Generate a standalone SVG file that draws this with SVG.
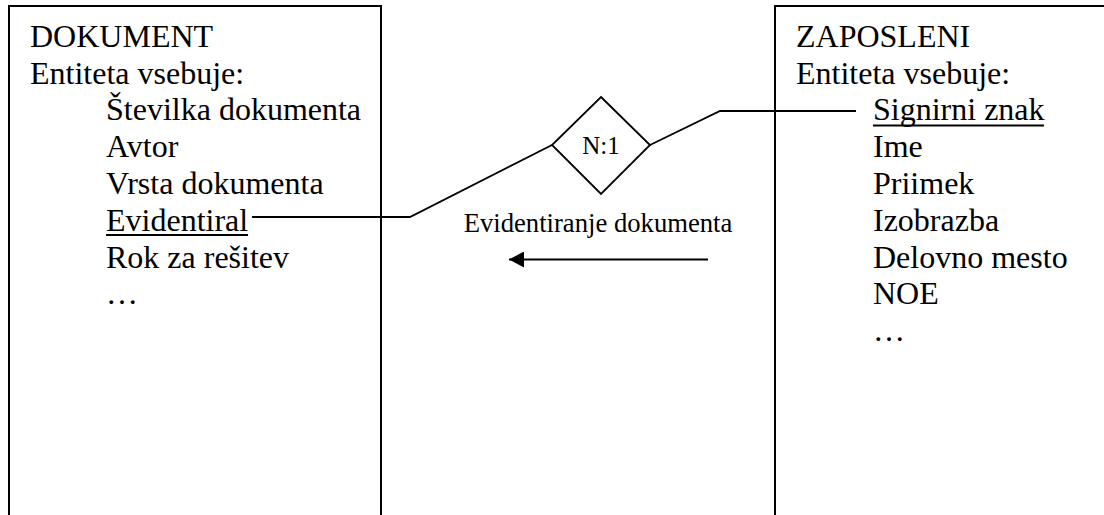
<svg xmlns="http://www.w3.org/2000/svg" width="1104" height="515" viewBox="0 0 1104 515">
  <defs>
    <marker id="arrowhead" markerWidth="16" markerHeight="16" refX="15" refY="8" orient="auto" markerUnits="userSpaceOnUse">
      <path d="M0,0 L15,8 L0,16 Z" fill="#000"/>
    </marker>
    <style>
      .box { fill: #fff; stroke: #000; stroke-width: 2; }
      text { font-family: 'Liberation Serif', 'Times New Roman', Times, serif; fill: #000; }
      .t { font-size: 32px; }
      .small { font-size: 26.67px; }
      .rel { font-size: 25px; }
      .ul { stroke: #000; stroke-width: 1.8; }
      .conn { fill: none; stroke: #000; stroke-width: 1.8; }
    </style>
  </defs>

  <rect width="1104" height="515" fill="#fff"/>

  <!-- Entity: DOKUMENT -->
  <g id="dokument" font-family="Liberation Serif, serif">
    <path class="box" d="M9,520 L9,6 L381,6 L381,520"/>
    <text class="t" x="30" y="46.7">DOKUMENT</text>
    <text class="t" x="30" y="83.5">Entiteta vsebuje:</text>
    <text class="t" x="106" y="120.3">Številka dokumenta</text>
    <text class="t" x="106" y="157.1">Avtor</text>
    <text class="t" x="106" y="193.9">Vrsta dokumenta</text>
    <text class="t" x="106" y="230.7">Evidentiral</text>
    <line class="ul" x1="106" y1="235" x2="248" y2="235"/>
    <text class="t" x="106" y="267.5">Rok za rešitev</text>
    <text class="t" x="106" y="304.3">…</text>
  </g>

  <!-- Entity: ZAPOSLENI -->
  <g id="zaposleni" font-family="Liberation Serif, serif">
    <path class="box" d="M775,520 L775,6 L1110,6"/>
    <text class="t" x="796" y="46.7">ZAPOSLENI</text>
    <text class="t" x="796" y="83.5">Entiteta vsebuje:</text>
    <text class="t" x="873" y="120.3">Signirni znak</text>
    <line class="ul" x1="873" y1="125.5" x2="1044" y2="125.5"/>
    <text class="t" x="873" y="157.1">Ime</text>
    <text class="t" x="873" y="193.9">Priimek</text>
    <text class="t" x="873" y="230.7">Izobrazba</text>
    <text class="t" x="873" y="267.5">Delovno mesto</text>
    <text class="t" x="873" y="304.3">NOE</text>
    <text class="t" x="873" y="341.1">…</text>
  </g>

  <!-- Relationship N:1 -->
  <g id="relationship" font-family="Liberation Serif, serif">
    <polygon points="601,97 650,145 601,194 552,145" fill="#fff" stroke="#000" stroke-width="1.8"/>
    <text class="rel" x="601" y="154" text-anchor="middle">N:1</text>
  </g>

  <!-- Connectors -->
  <g id="connectors" font-family="Liberation Serif, serif">
    <polyline class="conn" points="252,217 410,217 552,145"/>
    <polyline class="conn" points="650,145 720,111 856,111"/>
    <text class="small" x="598" y="231.7" text-anchor="middle">Evidentiranje dokumenta</text>
    <line class="conn" x1="708" y1="259.5" x2="509" y2="259.5" marker-end="url(#arrowhead)"/>
  </g>
</svg>
